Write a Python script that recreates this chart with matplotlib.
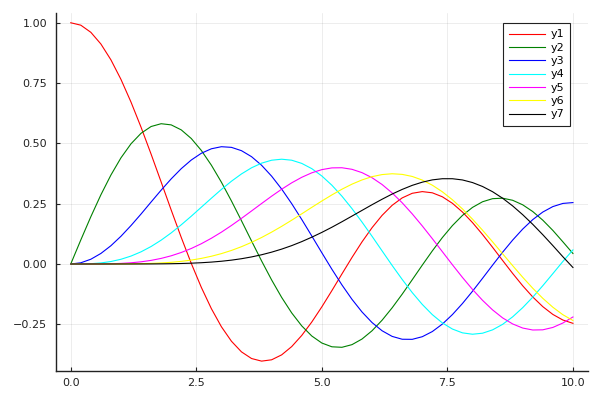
import matplotlib
matplotlib.use("Agg")
from matplotlib import pyplot as plt

# Sample points (step 0.2) and curve values.
x = [0.0, 0.2, 0.4, 0.6, 0.8, 1.0, 1.2, 1.4, 1.6, 1.8,
     2.0, 2.2, 2.4, 2.6, 2.8, 3.0, 3.2, 3.4, 3.6, 3.8,
     4.0, 4.2, 4.4, 4.6, 4.8, 5.0, 5.2, 5.4, 5.6, 5.8,
     6.0, 6.2, 6.4, 6.6, 6.8, 7.0, 7.2, 7.4, 7.6, 7.8,
     8.0, 8.2, 8.4, 8.6, 8.8, 9.0, 9.2, 9.4, 9.6, 9.8, 10.0]

y1 = [1.0000, 0.9900, 0.9604, 0.9120, 0.8463, 0.7652, 0.6711, 0.5669, 0.4554, 0.3400,
      0.2239, 0.1104, 0.0025, -0.0968, -0.1850, -0.2601, -0.3202, -0.3643, -0.3918, -0.4026,
      -0.3971, -0.3766, -0.3423, -0.2961, -0.2404, -0.1776, -0.1103, -0.0412, 0.0270, 0.0917,
      0.1506, 0.2017, 0.2433, 0.2740, 0.2931, 0.3001, 0.2951, 0.2786, 0.2516, 0.2154,
      0.1717, 0.1222, 0.0692, 0.0146, -0.0392, -0.0903, -0.1367, -0.1768, -0.2090, -0.2323, -0.2459]

y2 = [0.0000, 0.0995, 0.1960, 0.2867, 0.3688, 0.4401, 0.4983, 0.5419, 0.5699, 0.5815,
      0.5767, 0.5560, 0.5202, 0.4708, 0.4097, 0.3391, 0.2613, 0.1792, 0.0955, 0.0128,
      -0.0660, -0.1386, -0.2028, -0.2566, -0.2985, -0.3276, -0.3432, -0.3453, -0.3343, -0.3110,
      -0.2767, -0.2329, -0.1816, -0.1250, -0.0652, -0.0047, 0.0543, 0.1096, 0.1592, 0.2014,
      0.2346, 0.2580, 0.2708, 0.2728, 0.2641, 0.2453, 0.2174, 0.1816, 0.1392, 0.0919, 0.0435]

y3 = [0.0000, 0.0050, 0.0197, 0.0437, 0.0758, 0.1150, 0.1594, 0.2072, 0.2570, 0.3061,
      0.3528, 0.3951, 0.4310, 0.4590, 0.4776, 0.4862, 0.4835, 0.4697, 0.4449, 0.4093,
      0.3641, 0.3106, 0.2501, 0.1845, 0.1160, 0.0466, -0.0217, -0.0867, -0.1464, -0.1989,
      -0.2428, -0.2768, -0.3001, -0.3119, -0.3123, -0.3014, -0.2800, -0.2490, -0.2097, -0.1638,
      -0.1130, -0.0593, -0.0047, 0.0489, 0.0992, 0.1448, 0.1840, 0.2154, 0.2380, 0.2511, 0.2546]

y4 = [0.0000, 0.0002, 0.0013, 0.0044, 0.0103, 0.0196, 0.0329, 0.0505, 0.0725, 0.0988,
      0.1289, 0.1624, 0.1981, 0.2354, 0.2726, 0.3091, 0.3431, 0.3734, 0.3988, 0.4180,
      0.4302, 0.4344, 0.4302, 0.4170, 0.3952, 0.3648, 0.3265, 0.2811, 0.2297, 0.1738,
      0.1148, 0.0543, -0.0060, -0.0640, -0.1185, -0.1676, -0.2099, -0.2442, -0.2696, -0.2854,
      -0.2911, -0.2869, -0.2730, -0.2501, -0.2190, -0.1809, -0.1374, -0.0899, -0.0400, 0.0106, 0.0584]

y5 = [0.0000, 0.0000, 0.0001, 0.0003, 0.0010, 0.0025, 0.0050, 0.0091, 0.0150, 0.0232,
      0.0340, 0.0477, 0.0643, 0.0840, 0.1067, 0.1320, 0.1597, 0.1892, 0.2198, 0.2507,
      0.2811, 0.3100, 0.3365, 0.3594, 0.3780, 0.3912, 0.3984, 0.3990, 0.3925, 0.3787,
      0.3576, 0.3294, 0.2945, 0.2537, 0.2077, 0.1578, 0.1051, 0.0510, -0.0031, -0.0557,
      -0.1054, -0.1506, -0.1903, -0.2234, -0.2485, -0.2655, -0.2736, -0.2728, -0.2630, -0.2446, -0.2196]

y6 = [0.0000, 0.0000, 0.0000, 0.0000, 0.0001, 0.0003, 0.0006, 0.0013, 0.0025, 0.0043,
      0.0070, 0.0109, 0.0162, 0.0232, 0.0321, 0.0430, 0.0562, 0.0718, 0.0897, 0.1098,
      0.1321, 0.1561, 0.1816, 0.2080, 0.2348, 0.2611, 0.2864, 0.3100, 0.3310, 0.3485,
      0.3621, 0.3707, 0.3741, 0.3715, 0.3629, 0.3479, 0.3267, 0.2993, 0.2663, 0.2283,
      0.1858, 0.1400, 0.0918, 0.0423, -0.0069, -0.0550, -0.1005, -0.1423, -0.1792, -0.2103, -0.2341]

y7 = [0.0000, 0.0000, 0.0000, 0.0000, 0.0000, 0.0000, 0.0001, 0.0002, 0.0003, 0.0007,
      0.0012, 0.0021, 0.0034, 0.0053, 0.0079, 0.0114, 0.0160, 0.0219, 0.0293, 0.0383,
      0.0491, 0.0617, 0.0762, 0.0928, 0.1112, 0.1310, 0.1524, 0.1751, 0.1986, 0.2222,
      0.2458, 0.2685, 0.2900, 0.3092, 0.3260, 0.3392, 0.3487, 0.3535, 0.3535, 0.3484,
      0.3376, 0.3213, 0.2996, 0.2726, 0.2407, 0.2043, 0.1644, 0.1214, 0.0763, 0.0300, -0.0145]

series = [y1, y2, y3, y4, y5, y6, y7]
labels = ["y1", "y2", "y3", "y4", "y5", "y6", "y7"]
colors = ["red", "green", "blue", "cyan", "magenta", "yellow", "black"]

xticks = [0.0, 2.5, 5.0, 7.5, 10.0]
yticks = [-0.25, 0.0, 0.25, 0.5, 0.75, 1.0]

# Plot data.
fig = plt.figure(figsize=(6, 4), dpi=100)
ax = fig.add_axes([0.0928, 0.0718, 0.98 - 0.0928, 0.9685 - 0.0718])

for ys, lab, col in zip(series, labels, colors):
    ax.plot(x, ys, color=col, linewidth=0.8, label=lab)

# Format plot.
ax.set_xlim(-0.3, 10.3)
ax.set_ylim(-0.4447, 1.0421)
ax.set_xticks(xticks)
ax.set_xticklabels(["0.0", "2.5", "5.0", "7.5", "10.0"])
ax.set_yticks(yticks)
ax.set_yticklabels(["\u22120.25", "0.00", "0.25", "0.50", "0.75", "1.00"])
ax.grid(True, color="black", alpha=0.1, linewidth=0.5)
ax.set_axisbelow(True)

for side in ["top", "right"]:
    ax.spines[side].set_visible(False)
for side in ["left", "bottom"]:
    ax.spines[side].set_linewidth(1.0)
    ax.spines[side].set_color("#222222")

ax.tick_params(axis="both", direction="in", length=3, width=0.8,
               labelsize=8, colors="#222222")
ax.tick_params(axis="y", pad=6)
ax.tick_params(axis="x", pad=5)

leg = ax.legend(loc="upper right", bbox_to_anchor=(570.3 / 600, 1 - 23.3 / 400),
                bbox_transform=fig.transFigure, borderaxespad=0,
                fontsize=8, fancybox=False, framealpha=1,
                handlelength=3.2, handletextpad=0.5, labelspacing=0.3,
                borderpad=0.55)
leg.get_frame().set_edgecolor("#222222")
leg.get_frame().set_linewidth(0.8)

fig.savefig("out.png", dpi=100)
